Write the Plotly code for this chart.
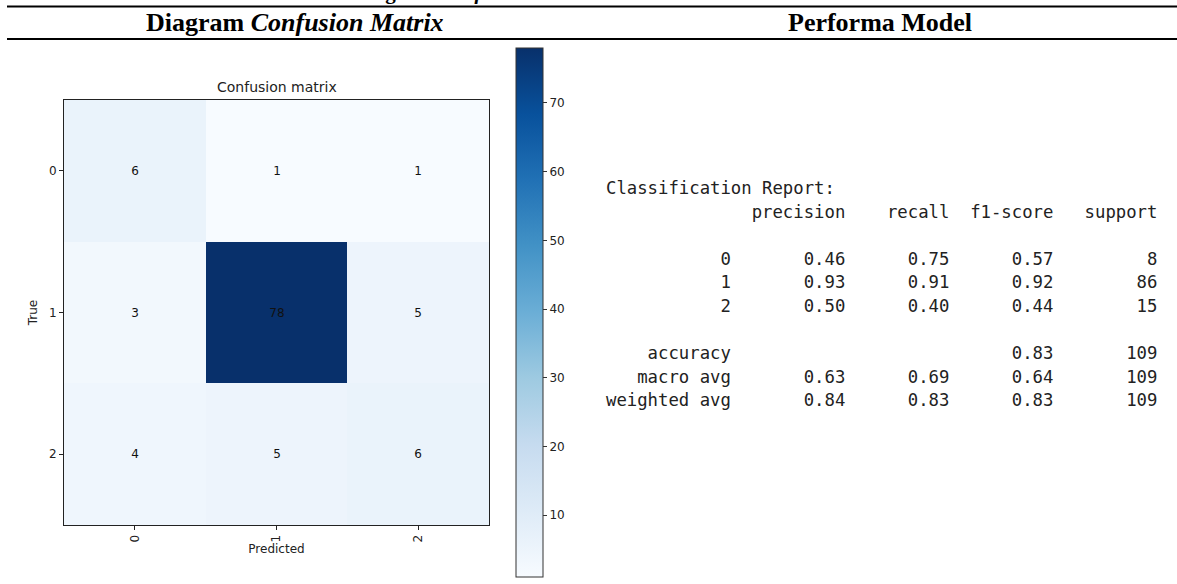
import plotly.graph_objects as go

# Confusion matrix values (rows = true class, columns = predicted class)
class_labels = ["0", "1", "2"]
confusion = [
    [6, 1, 1],
    [3, 78, 5],
    [4, 5, 6],
]

# Classification report values
report_classes = ["0", "1", "2"]
precision = [0.46, 0.93, 0.50]
recall = [0.75, 0.91, 0.40]
f1_score = [0.57, 0.92, 0.44]
support = [8, 86, 15]
accuracy = 0.83
accuracy_support = 109
macro_avg = [0.63, 0.69, 0.64, 109]
weighted_avg = [0.84, 0.83, 0.83, 109]
colorbar_ticks = [10, 20, 30, 40, 50, 60, 70]

W, H = 1177, 584


def px_x(x):
    return x / W


def px_y(y):
    return 1 - y / H


# matplotlib "Blues"
blues = [
    [0.000, "#f7fbff"], [0.125, "#deebf7"], [0.250, "#c6dbef"],
    [0.375, "#9ecae1"], [0.500, "#6baed6"], [0.625, "#4292c6"],
    [0.750, "#2171b5"], [0.875, "#08519c"], [1.000, "#08306b"],
]

TXT = "#222222"
small_font = dict(family="DejaVu Sans", size=12, color=TXT)

fig = go.Figure()

fig.add_trace(go.Heatmap(
    z=confusion,
    x=[0, 1, 2],
    y=[0, 1, 2],
    colorscale=blues,
    zmin=1,
    zmax=78,
    texttemplate="%{z}",
    textfont=dict(family="DejaVu Sans", size=12, color="#111111"),
    hoverinfo="skip",
    colorbar=dict(
        x=px_x(516), xanchor="left", xpad=0,
        y=px_y(48), yanchor="top", ypad=0,
        len=(577 - 48) / H, lenmode="fraction",
        thickness=27, thicknessmode="pixels",
        outlinewidth=1, outlinecolor="#333333",
        tickvals=colorbar_ticks,
        ticks="outside", ticklen=4, tickcolor="#333333",
        tickfont=small_font,
    ),
))

fig.update_xaxes(
    domain=[px_x(64), px_x(489)],
    range=[-0.5, 2.5],
    tickvals=[0, 1, 2], ticktext=class_labels,
    tickangle=-90,
    ticks="outside", ticklen=4, tickcolor=TXT,
    showline=True, mirror=True, linecolor=TXT, linewidth=1,
    showgrid=False, zeroline=False,
    tickfont=small_font,
    title=dict(text="Predicted", standoff=2, font=small_font),
)
fig.update_yaxes(
    domain=[px_y(525), px_y(100)],
    range=[2.5, -0.5],
    tickvals=[0, 1, 2], ticktext=class_labels,
    ticks="outside", ticklen=4, tickcolor=TXT,
    showline=True, mirror=True, linecolor=TXT, linewidth=1,
    showgrid=False, zeroline=False,
    tickfont=small_font,
    title=dict(text="True", standoff=8, font=small_font),
)

annotations = []

# heatmap title
annotations.append(dict(
    x=px_x(277), y=px_y(87), xref="paper", yref="paper",
    text="Confusion matrix", showarrow=False,
    xanchor="center", yanchor="middle",
    font=dict(family="DejaVu Sans", size=14, color=TXT),
))

# table caption, running off the top edge
annotations.append(dict(
    x=px_x(590), y=1, xref="paper", yref="paper",
    text="<b>Tabel 4. Diagram <i>Confusion Matrix</i> dan Performa Model <i>balance data</i></b>",
    showarrow=False, xanchor="center", yanchor="middle", yshift=8,
    font=dict(family="Liberation Serif", size=21, color="#000000"),
))

# column headers
annotations.append(dict(
    x=px_x(295), y=px_y(23), xref="paper", yref="paper",
    text="<b>Diagram <i>Confusion Matrix</i></b>", showarrow=False,
    xanchor="center", yanchor="middle",
    font=dict(family="Liberation Serif", size=26, color="#000000"),
))
annotations.append(dict(
    x=px_x(880), y=px_y(23), xref="paper", yref="paper",
    text="<b>Performa Model</b>", showarrow=False,
    xanchor="center", yanchor="middle",
    font=dict(family="Liberation Serif", size=26, color="#000000"),
))

# classification report text, formatted like sklearn's output
width = 12
lines = ["Classification Report:"]
lines.append(" " * width + " " + "".join(" {:>9}".format(h) for h in ["precision", "recall", "f1-score", "support"]))
lines.append("")
for name, p, r, f, s in zip(report_classes, precision, recall, f1_score, support):
    lines.append("{:>{w}s} ".format(name, w=width) + " {:>9.2f} {:>9.2f} {:>9.2f} {:>9}".format(p, r, f, s))
lines.append("")
lines.append("{:>{w}s} ".format("accuracy", w=width) + " {:>9} {:>9} {:>9.2f} {:>9}".format("", "", accuracy, accuracy_support))
lines.append("{:>{w}s} ".format("macro avg", w=width) + " {:>9.2f} {:>9.2f} {:>9.2f} {:>9}".format(*macro_avg))
lines.append("{:>{w}s} ".format("weighted avg", w=width) + " {:>9.2f} {:>9.2f} {:>9.2f} {:>9}".format(*weighted_avg))

line_top = 188
line_step = 23.6
for i, line in enumerate(lines):
    if not line.strip():
        continue
    annotations.append(dict(
        x=px_x(604), y=px_y(line_top + i * line_step), xref="paper", yref="paper",
        text=line.replace(" ", "\u00a0"), showarrow=False,
        xanchor="left", yanchor="middle",
        font=dict(family="DejaVu Sans Mono", size=17.3, color=TXT),
    ))

shapes = [
    dict(type="line", xref="paper", yref="paper",
         x0=px_x(7), x1=1, y0=px_y(6.5), y1=px_y(6.5),
         line=dict(color="#000000", width=2)),
    dict(type="line", xref="paper", yref="paper",
         x0=px_x(7), x1=1, y0=px_y(39), y1=px_y(39),
         line=dict(color="#000000", width=2)),
]

fig.update_layout(
    width=W, height=H,
    margin=dict(l=0, r=0, t=0, b=0),
    paper_bgcolor="white", plot_bgcolor="white",
    annotations=annotations,
    shapes=shapes,
    showlegend=False,
)

fig.write_html("out.html")
